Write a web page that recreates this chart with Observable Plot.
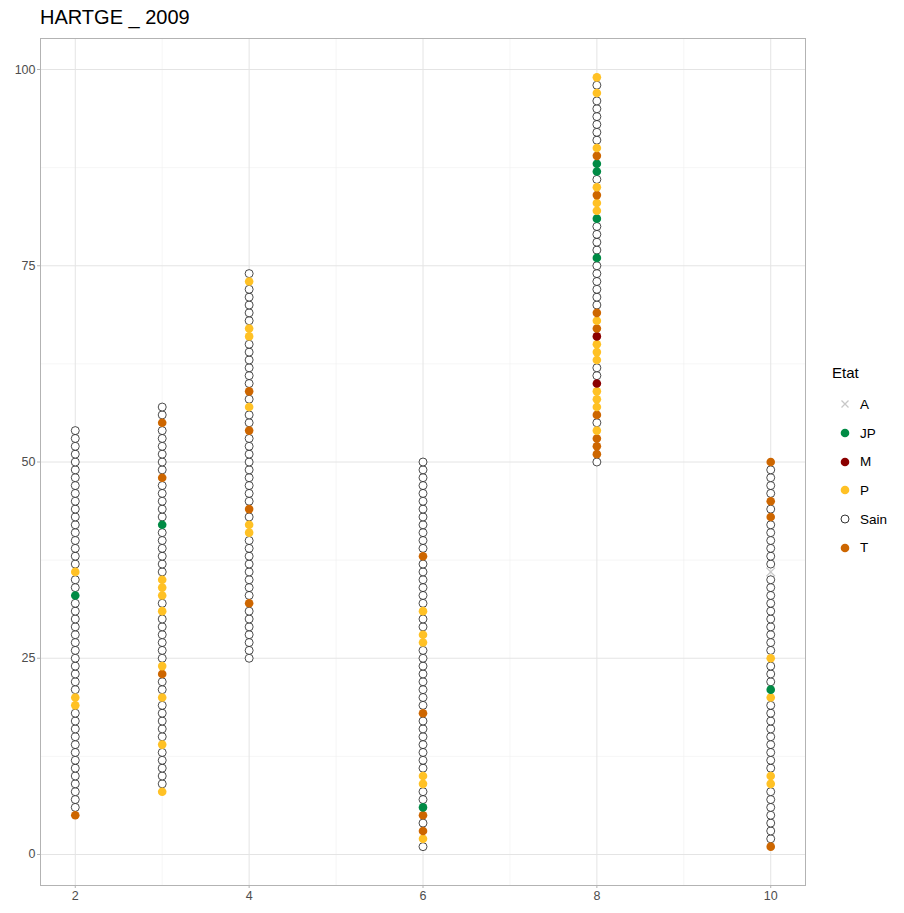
<!DOCTYPE html>
<html>
<head>
<meta charset="utf-8">
<script src="https://cdn.jsdelivr.net/npm/d3@7"></script>
<script src="https://cdn.jsdelivr.net/npm/@observablehq/plot@0.6"></script>
<style>
  body { margin: 0; background: #fff; font-family: "Liberation Sans", Arial, sans-serif; }
  #wrap { position: relative; width: 904px; height: 913px; }
  #title { position: absolute; left: 40px; top: 0; height: 34px; line-height: 34px; font-size: 20px; color: #000; }
  #chart { position: absolute; left: 0; top: 34px; }
  #legend { position: absolute; left: 832px; top: 360px; color: #000; }
  #legend .ttl { font-size: 15px; height: 30px; line-height: 26px; }
  #legend .row { display: flex; align-items: center; height: 28.7px; font-size: 13.5px; }
  #legend .row svg { margin-left: 7px; margin-right: 9px; }
</style>
</head>
<body>
<div id="wrap">
  <div id="title">HARTGE _ 2009</div>
  <div id="chart"></div>
  <div id="legend"></div>
</div>
<script>
// Treatments (x positions)
const treatments = [2, 3, 4, 6, 8, 10];
// Lowest value of each column
const startValues = [5, 8, 25, 1, 50, 1];
// State codes for consecutive values from the start value upward
// S = Sain, P = P, T = T, J = JP, M = M, A = A
const col2  = "TSSSSSSSSSSSSSPPSSSSSSSSSSSSJSSPSSSSSSSSSSSSSSSSSS";
const col3  = "PSSSSSPSSSSSPSSTPSSSSSSPSPPPSSSSSSJSSSSSTSSSSSSTSS";
const col4  = "SSSSSSSTSSSSSSSSPPSTSSSSSSSSSTSSPSTSSSSSSPPSSSSSPS";
const col6  = "SPTSTJSSPPSSSSSSSTSSSSSSSSPPSSPSSSSSSTSSSSSSSSSSSS";
const col8  = "STTTPSTPPPMSSPPPMTPTSSSSSSJSSSSJPPTPSJJTPSSSSSSPSP";
const col10 = "TSSSSSSSPPSSSSSSSSSPJSSSPSSSSSSSSSSASSSSSSTSTSSSST";
const codeStrings = [col2, col3, col4, col6, col8, col10];

const stateNames = {S: "Sain", P: "P", T: "T", J: "JP", M: "M", A: "A"};
const legendStates = ["A", "JP", "M", "P", "Sain", "T"];
const stateColors = {JP: "#008b45", M: "#8b0000", P: "#ffc125", T: "#cd6600"};

const data = [];
treatments.forEach((t, i) => {
  const codes = codeStrings[i];
  for (let k = 0; k < codes.length; k++) {
    data.push({trt: t, val: startValues[i] + k, etat: stateNames[codes[k]]});
  }
});

const sain = data.filter(d => d.etat === "Sain");
const colored = data.filter(d => stateColors[d.etat]);
const absent = data.filter(d => d.etat === "A");

const xTicks = [2, 4, 6, 8, 10];
const xMinor = [3, 5, 7, 9];
const yTicks = [0, 25, 50, 75, 100];
const yMinor = [12.5, 37.5, 62.5, 87.5];

const chart = Plot.plot({
  width: 820,
  height: 879,
  marginLeft: 40,
  marginRight: 15,
  marginTop: 4,
  marginBottom: 28,
  style: {fontFamily: "Liberation Sans, Arial, sans-serif", fontSize: "12.5px", background: "white", color: "#4d4d4d"},
  x: {domain: [1.6, 10.4], label: null},
  y: {domain: [-3.95, 103.95], label: null},
  color: {domain: Object.keys(stateColors), range: Object.values(stateColors)},
  marks: [
    Plot.gridX(xMinor, {stroke: "#f0f0f0", strokeOpacity: 1, strokeWidth: 0.6}),
    Plot.gridY(yMinor, {stroke: "#f0f0f0", strokeOpacity: 1, strokeWidth: 0.6}),
    Plot.gridX(xTicks, {stroke: "#e4e4e4", strokeOpacity: 1, strokeWidth: 1}),
    Plot.gridY(yTicks, {stroke: "#e4e4e4", strokeOpacity: 1, strokeWidth: 1}),
    Plot.frame({stroke: "#b3b3b3"}),
    Plot.axisX(xTicks, {tickSize: 3, tickPadding: 3, stroke: "#b3b3b3", fill: "#4d4d4d", label: null}),
    Plot.axisY(yTicks, {tickSize: 3, tickPadding: 2, stroke: "#b3b3b3", fill: "#4d4d4d", label: null}),
    Plot.dot(sain, {x: "trt", y: "val", r: 4, fill: "white", stroke: "black", strokeWidth: 0.7}),
    Plot.dot(absent, {x: "trt", y: "val", r: 4, symbol: "times", stroke: "#c8c8c8", strokeWidth: 1.2}),
    Plot.dot(colored, {x: "trt", y: "val", r: 4.3, fill: "etat", stroke: null})
  ]
});
document.getElementById("chart").appendChild(chart);

// Legend
const leg = document.getElementById("legend");
const t = document.createElement("div");
t.className = "ttl";
t.textContent = "Etat";
leg.appendChild(t);
const ns = "http://www.w3.org/2000/svg";
legendStates.forEach(s => {
  const row = document.createElement("div");
  row.className = "row";
  const sv = document.createElementNS(ns, "svg");
  sv.setAttribute("width", 12);
  sv.setAttribute("height", 12);
  if (s === "A") {
    const p = document.createElementNS(ns, "path");
    p.setAttribute("d", "M2.5,2.5L9.5,9.5M9.5,2.5L2.5,9.5");
    p.setAttribute("stroke", "#c8c8c8");
    p.setAttribute("stroke-width", 1.3);
    sv.appendChild(p);
  } else {
    const c = document.createElementNS(ns, "circle");
    c.setAttribute("cx", 6); c.setAttribute("cy", 6);
    if (s === "Sain") {
      c.setAttribute("r", 4); c.setAttribute("fill", "white");
      c.setAttribute("stroke", "black"); c.setAttribute("stroke-width", 0.8);
    } else {
      c.setAttribute("r", 4.3); c.setAttribute("fill", stateColors[s]);
    }
    sv.appendChild(c);
  }
  row.appendChild(sv);
  const lab = document.createElement("span");
  lab.textContent = s;
  row.appendChild(lab);
  leg.appendChild(row);
});
</script>
</body>
</html>
